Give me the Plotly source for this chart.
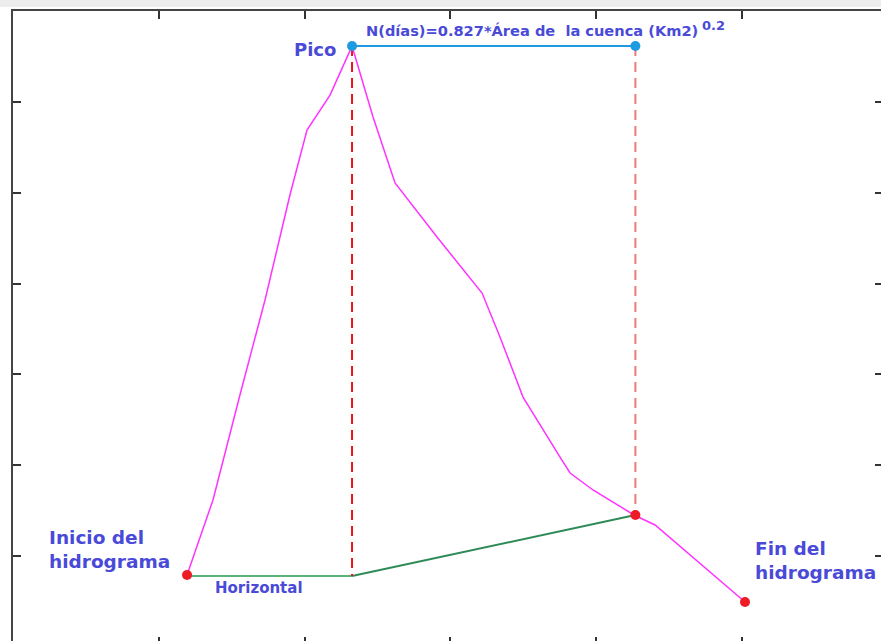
import plotly.graph_objects as go

# Hydrograph (magenta line)
hydro_x = [1.194, 1.372, 1.557, 1.729, 1.900, 2.017, 2.175, 2.326,
           2.470, 2.621, 2.909, 3.218, 3.341, 3.499, 3.753, 3.822, 3.979,
           4.261, 4.405, 5.022]
hydro_y = [0.792, 1.618, 2.774, 3.819, 4.975, 5.690, 6.075, 6.614,
           5.833, 5.107, 4.512, 3.896, 3.412, 2.751, 2.091, 1.915, 1.728,
           1.453, 1.343, 0.495]

peak_x, peak_y = 2.326, 6.614
n_end_x = 4.27
start_x, start_y = 1.194, 0.792
base_y = 0.781
sep_y = 1.453
end_x, end_y = 5.022, 0.495

x_ticks = [0, 1, 2, 3, 4, 5, 6]
y_ticks = [0, 1, 2, 3, 4, 5, 6, 7]

TXT = "#4a4ad8"
FONT = "DejaVu Sans"

fig = go.Figure()

# green baseflow separation
fig.add_trace(go.Scatter(x=[start_x, peak_x], y=[base_y, base_y], mode="lines",
                         line=dict(color="#5cb37c", width=2), hoverinfo="skip"))
fig.add_trace(go.Scatter(x=[peak_x, n_end_x], y=[base_y, sep_y], mode="lines",
                         line=dict(color="#2e8b57", width=2), hoverinfo="skip"))
# red dashed verticals
fig.add_trace(go.Scatter(x=[peak_x, peak_x], y=[peak_y, base_y], mode="lines",
                         line=dict(color="#e8141c", width=2, dash="10px,6px"), hoverinfo="skip"))
fig.add_trace(go.Scatter(x=[n_end_x, n_end_x], y=[peak_y, sep_y], mode="lines",
                         line=dict(color="#f07878", width=2, dash="10px,6px"), hoverinfo="skip"))
# hydrograph
fig.add_trace(go.Scatter(x=hydro_x, y=hydro_y, mode="lines",
                         line=dict(color="#ff33ff", width=1.5), hoverinfo="skip"))
# blue N line
fig.add_trace(go.Scatter(x=[peak_x, n_end_x], y=[peak_y, peak_y], mode="lines+markers",
                         line=dict(color="#1e9be0", width=2),
                         marker=dict(color="#1e9be0", size=10), hoverinfo="skip"))
# red points
fig.add_trace(go.Scatter(x=[start_x, n_end_x, end_x], y=[start_y, sep_y, end_y], mode="markers",
                         marker=dict(color="#ee1c24", size=10), hoverinfo="skip"))
# invisible trace for mirrored tick axes
fig.add_trace(go.Scatter(x=[0], y=[0], xaxis="x2", yaxis="y2", mode="markers",
                         marker=dict(opacity=0), hoverinfo="skip"))

xr = [0, 5.955]
yr = [0.066, 7]

fig.update_layout(
    width=881, height=641,
    margin=dict(l=13, r=0, t=11, b=0),
    paper_bgcolor="white", plot_bgcolor="white",
    showlegend=False,
    xaxis=dict(range=xr, side="top", tickvals=x_ticks, ticks="inside", ticklen=8,
               tickwidth=1.5, tickcolor="#333", showline=True, linecolor="#444",
               linewidth=1.5, showticklabels=False, showgrid=False, zeroline=False),
    yaxis=dict(range=yr, side="left", tickvals=y_ticks, ticks="inside", ticklen=8,
               tickwidth=1.5, tickcolor="#333", showline=True, linecolor="#444",
               linewidth=1.5, showticklabels=False, showgrid=False, zeroline=False),
    xaxis2=dict(range=xr, overlaying="x", side="bottom", tickvals=x_ticks, ticks="inside",
                ticklen=4, tickwidth=1.5, tickcolor="#333", showline=False,
                showticklabels=False, showgrid=False, zeroline=False),
    yaxis2=dict(range=yr, overlaying="y", side="right", tickvals=y_ticks, ticks="inside",
                ticklen=6, tickwidth=1.5, tickcolor="#333", showline=False,
                showticklabels=False, showgrid=False, zeroline=False),
    shapes=[dict(type="rect", xref="paper", yref="paper", x0=-0.02, x1=1.0,
                 y0=1 + 4 / 630, y1=1 + 11 / 630, fillcolor="#ededed", line=dict(width=0),
                 layer="below")],
)

def ann(text, x, y, size, xanchor="left", yanchor="middle"):
    fig.add_annotation(text=text, x=x, y=y, xref="x", yref="y", showarrow=False,
                       xanchor=xanchor, yanchor=yanchor, align="left",
                       font=dict(family=FONT, size=size, color=TXT))

ann("<b>Pico</b>", 2.23, 6.58, 18, xanchor="right")
ann("<b>N(días)=0.827*Área de  la cuenca (Km2)</b>", 2.41, 6.78, 14.6)
ann("<b>0.2</b>", 4.71, 6.835, 13)
ann("<b>Inicio del<br>hidrograma</b>", 0.23, 1.068, 18.5)
ann("<b>Horizontal</b>", 1.37, 0.649, 15)
ann("<b>Fin del<br>hidrograma</b>", 5.08, 0.947, 18.5)

fig.write_html("out.html", config={"displayModeBar": False},
               post_script="document.body.style.margin='0';document.body.style.overflow='hidden';")
